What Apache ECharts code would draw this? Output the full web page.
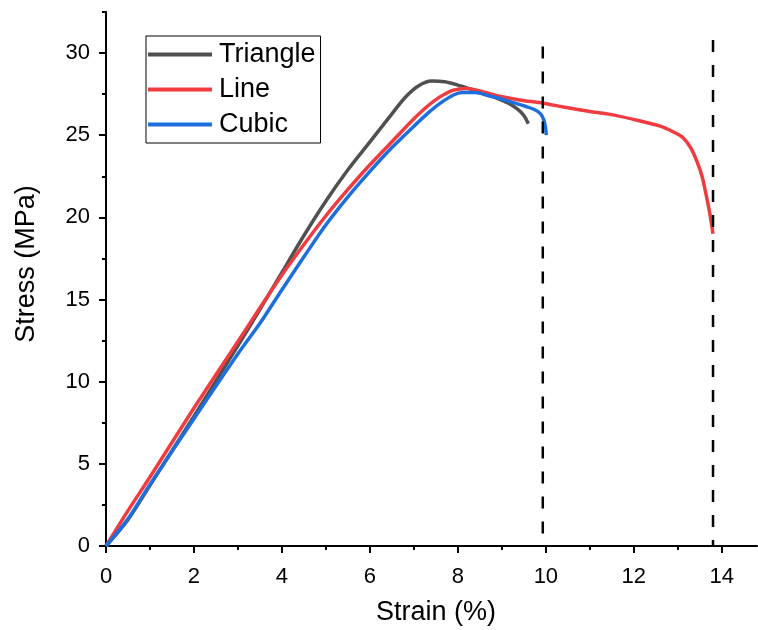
<!DOCTYPE html>
<html>
<head>
<meta charset="utf-8">
<script src="https://cdn.jsdelivr.net/npm/echarts@6/dist/echarts.min.js"></script>
<style>
html, body { margin: 0; padding: 0; background: #fff; }
#chart1 { width: 758px; height: 630px; }
</style>
</head>
<body>
<div id="chart1"></div>
<script>
// 三条应力-应变曲线
var triangleStrain = [0, 0.5, 1, 2, 3, 3.5, 4, 4.5, 5, 5.5, 6, 6.5, 6.8, 7.1, 7.4, 7.7, 8.0, 8.3, 8.6, 8.9, 9.15, 9.35, 9.5, 9.6];
var triangleStress = [0, 1.6, 3.7, 7.9, 12.2, 14.4, 16.65, 18.9, 21.0, 22.9, 24.6, 26.3, 27.3, 28.0, 28.3, 28.25, 28.05, 27.8, 27.55, 27.25, 26.95, 26.6, 26.2, 25.7];

var lineStrain = [0, 0.5, 1, 2, 3, 3.5, 4, 4.5, 5, 5.5, 6, 6.5, 7, 7.3, 7.6, 7.9, 8.2, 8.5, 8.9, 9.4, 9.94, 10.4, 11.0, 11.4, 12.1, 12.6, 12.9, 13.12, 13.3, 13.45, 13.55, 13.65, 13.73, 13.8];
var lineStress = [0, 2.15, 4.2, 8.4, 12.45, 14.5, 16.5, 18.35, 20.1, 21.7, 23.2, 24.6, 26.0, 26.75, 27.35, 27.75, 27.85, 27.7, 27.4, 27.15, 26.95, 26.72, 26.45, 26.3, 25.9, 25.55, 25.2, 24.85, 24.2, 23.3, 22.5, 21.3, 20.2, 19.0];

var cubicStrain = [0, 0.5, 1, 2, 3, 3.5, 4, 4.5, 5, 5.5, 6, 6.5, 7, 7.3, 7.6, 7.9, 8.1, 8.4, 8.7, 9.0, 9.3, 9.55, 9.75, 9.88, 9.95, 9.99, 10.01];
var cubicStress = [0, 1.65, 3.75, 7.75, 11.7, 13.55, 15.6, 17.6, 19.55, 21.25, 22.8, 24.25, 25.55, 26.3, 26.95, 27.45, 27.6, 27.6, 27.4, 27.2, 26.95, 26.75, 26.55, 26.3, 25.95, 25.5, 25.0];

// 两条断裂位置虚线
var breakStrain = [9.93, 13.8];
var breakTop = [30.4, 30.8];

// 刻度
var xTicks = [0, 2, 4, 6, 8, 10, 12, 14];
var xMinor = [1, 3, 5, 7, 9, 11, 13];
var yTicks = [0, 5, 10, 15, 20, 25, 30];
var yMinor = [2.5, 7.5, 12.5, 17.5, 22.5, 27.5, 32.5];

var font = 'Liberation Sans';

function pairs(xs, ys) {
    var out = [];
    for (var i = 0; i < xs.length; i++) {
        out.push([xs[i], ys[i]]);
    }
    return out;
}

var dom = document.getElementById('chart1');
var myChart = echarts.init(dom, null, {renderer: 'canvas'});

var curveStyle = function (name, color, xs, ys) {
    return {
        name: name,
        type: 'line',
        data: pairs(xs, ys),
        showSymbol: false,
        smooth: 0.3,
        lineStyle: {color: color, width: 3.5},
        itemStyle: {color: color},
        z: 3
    };
};

var series = [
    curveStyle('Triangle', '#505050', triangleStrain, triangleStress),
    curveStyle('Line', '#f03c41', lineStrain, lineStress),
    curveStyle('Cubic', '#1c6fdd', cubicStrain, cubicStress)
];

for (var i = 0; i < breakStrain.length; i++) {
    series.push({
        name: 'break' + i,
        type: 'line',
        data: [[breakStrain[i], breakTop[i]], [breakStrain[i], 0]],
        showSymbol: false,
        silent: true,
        lineStyle: {color: '#000', width: 2.5, type: [12, 13]},
        z: 4
    });
}

var axisCommon = {
    axisLine: {show: true, lineStyle: {color: '#000', width: 2}},
    splitLine: {show: false}
};

myChart.setOption({
    animation: false,
    grid: {left: 106, right: 1, top: 12, bottom: 84, outerBoundsMode: 'none'},
    legend: {
        data: ['Triangle', 'Line', 'Cubic'],
        orient: 'vertical',
        left: 146,
        top: 36,
        padding: [5, 5, 5, 2],
        itemGap: 8,
        itemWidth: 64,
        itemHeight: 4,
        icon: 'rect',
        borderColor: '#000',
        borderWidth: 1,
        textStyle: {fontFamily: font, fontSize: 27, color: '#000', lineHeight: 27, padding: [0, 0, 0, 2]}
    },
    xAxis: [
        Object.assign({}, axisCommon, {
            type: 'value', min: 0, max: 14.8,
            name: 'Strain (%)',
            nameLocation: 'middle',
            nameGap: 53,
            nameTextStyle: {fontFamily: font, fontSize: 27, color: '#000', padding: [0, 0, 0, 9]},
            axisTick: {show: true, length: 7, lineStyle: {width: 2, color: '#000'}, customValues: xTicks},
            axisLabel: {fontFamily: font, fontSize: 22, color: '#000', margin: 20, customValues: xTicks}
        }),
        {
            type: 'value', min: 0, max: 14.8, position: 'bottom',
            axisLine: {show: false}, splitLine: {show: false},
            axisLabel: {show: false},
            axisTick: {show: true, length: 4, lineStyle: {width: 2, color: '#000'}, customValues: xMinor}
        }
    ],
    yAxis: [
        Object.assign({}, axisCommon, {
            type: 'value', min: 0, max: 32.5,
            name: 'Stress (MPa)',
            nameLocation: 'middle',
            nameGap: 66,
            nameTextStyle: {fontFamily: font, fontSize: 27, color: '#000', padding: [0, 0, 0, 30]},
            axisTick: {show: true, length: 7, lineStyle: {width: 2, color: '#000'}, customValues: yTicks},
            axisLabel: {fontFamily: font, fontSize: 22, color: '#000', margin: 16, customValues: yTicks}
        }),
        {
            type: 'value', min: 0, max: 32.5, position: 'left',
            axisLine: {show: false}, splitLine: {show: false},
            axisLabel: {show: false},
            axisTick: {show: true, length: 4, lineStyle: {width: 2, color: '#000'}, customValues: yMinor}
        }
    ],
    series: series
});
</script>
</body>
</html>
